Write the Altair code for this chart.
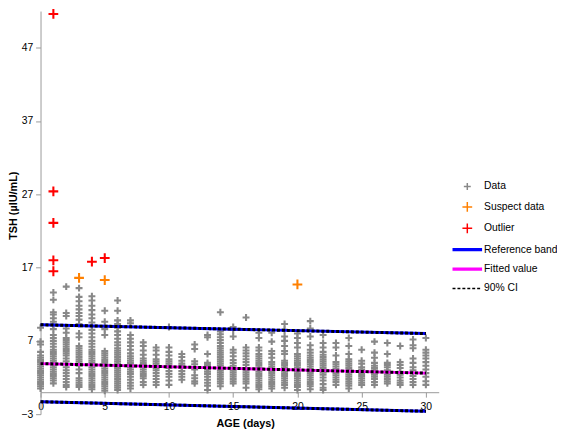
import altair as alt
import pandas as pd

# ---------------- data ----------------
series_names = ["Data", "Suspect data", "Outlier", "Reference band", "Fitted value", "90% CI"]
series_colors = ["#888888", "#ff8000", "#ff0000", "#0000ff", "#ff00ff", "#000000"]

# TSH values (µIU/mL) of the ordinary data, one list per age in days (0..30)
tsh_by_day = [
    [8.8, 6.9, 6.5, 5.5, 5.0, 4.7, 4.4, 4.1, 3.8, 3.5, 3.2, 2.9, 2.6, 2.3, 2.0, 1.7, 1.4, 1.1, 0.8, 0.5],
    [13.6, 12.6, 10.9, 10.6, 10.1, 9.6, 9.2, 8.6, 7.8, 7.4, 7.0, 6.6, 6.2, 5.8, 5.5, 5.2, 4.9, 4.6, 4.3, 4.0, 3.7, 3.4, 3.1, 2.8, 2.5, 2.2, 1.9, 1.6, 1.2],
    [14.4, 10.8, 10.4, 8.7, 8.1, 7.4, 7.1, 6.8, 6.5, 6.2, 5.9, 5.6, 5.3, 5.0, 4.6, 4.2, 3.8, 3.4, 3.0, 2.6, 2.2, 1.8, 1.4, 1.0, 0.7],
    [14.2, 13.0, 12.4, 11.8, 11.3, 10.8, 10.4, 9.9, 9.3, 8.0, 7.5, 6.3, 6.0, 5.7, 5.4, 5.1, 4.8, 4.5, 4.2, 3.9, 3.6, 3.1, 2.6, 1.9, 1.6, 1.3, 1.0, 0.7],
    [13.1, 12.5, 11.8, 11.2, 10.6, 10.1, 9.5, 9.0, 8.5, 8.0, 7.5, 7.0, 6.6, 6.2, 5.8, 5.5, 5.2, 4.9, 4.6, 4.3, 4.0, 3.7, 3.4, 3.1, 2.8, 2.5, 2.2, 1.9, 1.6, 1.3, 1.0, 0.7, 0.4],
    [11.1, 9.6, 8.6, 7.8, 5.6, 5.3, 5.0, 4.7, 4.4, 4.1, 3.8, 3.5, 3.2, 2.9, 2.6, 2.3, 2.0, 1.7, 1.4, 1.1, 0.8, 0.5, 0.2],
    [12.5, 11.1, 9.8, 9.3, 8.8, 8.3, 7.8, 7.3, 6.8, 6.4, 6.0, 5.7, 5.4, 5.1, 4.8, 4.5, 4.2, 3.9, 3.6, 3.3, 3.0, 2.7, 2.4, 2.1, 1.8, 1.5, 1.2, 0.9, 0.6, 0.3],
    [9.8, 9.4, 7.8, 7.3, 6.8, 6.3, 5.8, 5.3, 4.9, 4.6, 4.3, 4.0, 3.7, 3.4, 3.1, 2.8, 2.5, 2.1, 1.7, 1.3, 0.9, 0.5],
    [6.8, 6.3, 5.7, 5.1, 4.6, 4.3, 4.0, 3.7, 3.4, 3.1, 2.8, 2.5, 2.2, 1.9, 1.4, 1.0],
    [6.1, 5.7, 5.1, 4.5, 4.2, 3.9, 3.6, 3.3, 3.0, 2.6, 2.2, 1.8, 1.4, 1.0],
    [8.9, 6.1, 5.5, 5.0, 4.5, 4.2, 3.9, 3.6, 3.3, 2.9, 2.5, 2.1, 1.6, 1.0],
    [5.2, 4.8, 4.3, 3.9, 3.6, 3.3, 2.9, 2.5, 2.1, 1.7],
    [6.5, 5.9, 4.2, 3.8, 3.4, 3.1, 2.3, 1.9, 1.5, 1.2],
    [7.8, 7.5, 5.2, 4.0, 3.7, 3.4, 3.1, 2.8, 2.5, 2.1, 1.7, 1.3, 0.9, 0.3],
    [10.9, 8.3, 7.9, 7.5, 7.1, 6.7, 6.3, 6.0, 5.7, 5.4, 5.1, 4.8, 4.5, 4.2, 3.9, 3.6, 3.3, 3.0, 2.7, 2.4, 2.1, 1.8, 1.5, 1.2, 0.8],
    [8.9, 8.5, 7.6, 5.8, 5.4, 4.9, 4.4, 4.0, 3.6, 3.3, 3.0, 2.7, 2.4, 2.1, 1.8, 1.5, 1.2],
    [10.2, 6.1, 5.7, 5.3, 4.9, 4.5, 4.1, 3.7, 3.3, 3.0, 2.7, 2.4, 2.1, 1.8, 1.5, 1.2, 0.6],
    [8.1, 7.4, 6.1, 5.7, 5.2, 4.9, 4.6, 4.3, 4.0, 3.7, 3.4, 3.1, 2.8, 2.5, 2.2, 1.9, 1.6, 1.3, 1.0, 0.7, 0.4],
    [8.1, 6.9, 5.6, 5.2, 4.7, 4.1, 3.8, 3.5, 3.2, 2.9, 2.6, 2.3, 2.0, 1.7, 1.4, 1.1, 0.8, 0.5],
    [9.3, 8.5, 7.6, 7.0, 6.3, 5.6, 5.2, 4.3, 4.0, 3.7, 3.4, 3.1, 2.8, 2.5, 2.2, 1.9, 1.6, 1.3, 1.0, 0.6],
    [8.0, 7.4, 6.7, 6.1, 5.2, 4.9, 4.6, 4.3, 4.0, 3.7, 3.4, 3.1, 2.8, 2.5, 2.2, 1.9, 1.6, 1.3, 1.0, 0.7, 0.3],
    [9.7, 8.7, 7.6, 6.4, 5.8, 5.4, 5.0, 4.7, 4.4, 4.1, 3.8, 3.5, 3.2, 2.9, 2.6, 2.3, 2.0, 1.7, 1.4, 1.1, 0.8, 0.4],
    [7.8, 6.7, 6.1, 5.5, 5.1, 4.8, 4.5, 4.2, 3.9, 3.6, 3.3, 3.0, 2.7, 2.4, 2.0, 1.6, 1.1, 0.6, 0.3],
    [6.7, 6.1, 5.0, 4.1, 3.8, 3.5, 3.2, 2.9, 2.6, 2.3, 2.0, 1.7, 1.4, 1.0],
    [7.4, 6.3, 5.2, 4.5, 4.2, 3.9, 3.6, 3.3, 3.0, 2.7, 2.4, 2.1, 1.8, 1.5, 1.2, 0.9, 0.5],
    [5.8, 4.3, 3.9, 3.4, 3.1, 2.8, 2.5, 2.2, 1.9, 1.6, 1.3, 1.0],
    [6.9, 5.4, 4.7, 4.0, 3.6, 3.3, 3.0, 2.7, 2.4, 2.1, 1.8, 1.4, 1.0],
    [6.7, 5.2, 4.0, 3.7, 3.4, 3.0, 2.7, 2.4, 2.1, 1.8, 1.5, 1.2],
    [6.3, 4.1, 3.7, 3.3, 2.8, 2.4, 2.0, 1.6, 1.3, 1.0],
    [7.2, 6.4, 6.0, 4.6, 4.0, 3.4, 3.0, 2.6, 2.2, 1.8, 1.4, 1.0],
    [7.4, 5.8, 5.4, 5.0, 4.6, 4.1, 3.6, 3.1, 2.6, 2.1, 1.5, 1.0],
]

suspect_age = [3, 5, 20]
suspect_tsh = [15.6, 15.3, 14.7]

outlier_age = [1, 1, 1, 1, 1, 4, 5]
outlier_tsh = [51.6, 27.4, 23.1, 18.0, 16.5, 17.8, 18.3]

curve_age = [0, 15, 30]
upper_band = [9.2, 8.6, 8.0]
fitted_value = [3.9, 3.25, 2.6]
lower_band = [-1.3, -1.95, -2.6]

y_ticks = [-3, 7, 17, 27, 37, 47]
x_ticks = [0, 5, 10, 15, 20, 25, 30]

# ---------------- tables ----------------
pt_rows = []
for day, vals in enumerate(tsh_by_day):
    for v in vals:
        pt_rows.append({"age": day, "tsh": v, "series": "Data"})
for a, v in zip(suspect_age, suspect_tsh):
    pt_rows.append({"age": a, "tsh": v, "series": "Suspect data"})
for a, v in zip(outlier_age, outlier_tsh):
    pt_rows.append({"age": a, "tsh": v, "series": "Outlier"})
points = pd.DataFrame(pt_rows)

ln_rows = []
ci_rows = []
for name, ser, arr in [("upper", "Reference band", upper_band),
                       ("fit", "Fitted value", fitted_value),
                       ("lower", "Reference band", lower_band)]:
    for a, v in zip(curve_age, arr):
        ln_rows.append({"age": a, "tsh": v, "series": ser, "curve": name})
        ci_rows.append({"age": a, "tsh": v, "series": "90% CI", "curve": name})
lines = pd.DataFrame(ln_rows)
ci = pd.DataFrame(ci_rows)

# ---------------- styling ----------------
FONT = "Liberation Sans"
plus_s = "M-0.39,0L0.39,0M0,-0.39L0,0.39"
plus_l = "M-0.55,0L0.55,0M0,-0.55L0,0.55"
thick = "M-1.667,-0.1L1.667,-0.1M-1.667,0L1.667,0M-1.667,0.1L1.667,0.1"
thin = "M-1.667,0L1.667,0"
series_shapes = [plus_s, plus_l, plus_l, thick, thick, thin]
series_dashes = [[1, 0], [1, 0], [1, 0], [1, 0], [1, 0], [3, 2]]

leg = alt.Legend(orient="none", legendX=423, legendY=168, title=None,
                 symbolSize=324, symbolStrokeWidth=1.5, labelFont=FONT,
                 labelFontSize=10.5, labelColor="#000", labelOffset=7,
                 rowPadding=3.7, padding=0)

color = alt.Color("series:N", scale=alt.Scale(domain=series_names, range=series_colors), legend=leg)
shape = alt.Shape("series:N", scale=alt.Scale(domain=series_names, range=series_shapes), legend=leg)
dash = alt.StrokeDash("series:N", scale=alt.Scale(domain=series_names, range=series_dashes), legend=leg)

x = alt.X("age:Q", scale=alt.Scale(domain=[0, 31], nice=False, zero=False),
          axis=alt.Axis(values=x_ticks, tickSize=5, labelPadding=4.5, offset=-22.3,
                        labelFlush=False, grid=False, domainColor="#999999", tickColor="#999999",
                        labelColor="#000", labelFont=FONT, labelFontSize=10.5,
                        title="AGE (days)", titleFont=FONT, titleFontSize=11, titleFontWeight="bold",
                        titleX=207.7, titleY=35.3, titleBaseline="alphabetic", titleAlign="center"))
y = alt.Y("tsh:Q", scale=alt.Scale(domain=[-3, 52], nice=False, zero=False),
          axis=alt.Axis(values=y_ticks, tickSize=5, labelPadding=3,
                        labelFlush=False, grid=False, domainColor="#999999", tickColor="#999999",
                        labelColor="#000", labelFont=FONT, labelFontSize=10.5,
                        title="TSH (µIU/mL)", titleFont=FONT, titleFontSize=11, titleFontWeight="bold",
                        titleAngle=270, titleX=-24.5, titleY=197, titleBaseline="alphabetic",
                        titleAlign="center"))

pts = alt.Chart(points).mark_point(filled=False, size=324, strokeWidth=2.1, opacity=1).encode(
    x=x, y=y, color=color, shape=shape)
band = alt.Chart(lines).mark_line(strokeWidth=3).encode(
    x=x, y=y, color=color, detail="curve:N")
cil = alt.Chart(ci).mark_line(strokeWidth=3).encode(
    x=x, y=y, color=color, strokeDash=dash, detail="curve:N")

chart = alt.layer(pts, band, cil).properties(
    width=404, height=409,
    autosize=alt.AutoSizeParams(type="none"),
    padding={"left": 33, "top": 0, "right": 120, "bottom": 16},
).configure_view(stroke=None)

chart.save("out.html", embed_options={"renderer": "svg", "actions": False})
